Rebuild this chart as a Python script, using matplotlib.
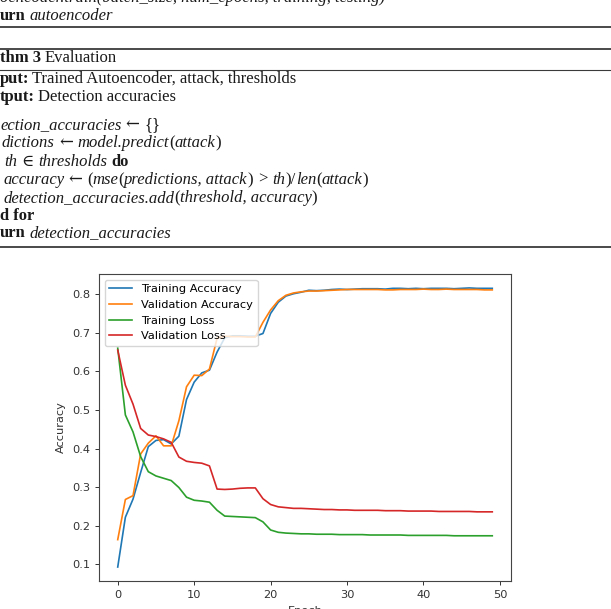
import numpy as np
import matplotlib
matplotlib.use("Agg")
import matplotlib.pyplot as plt
from matplotlib.lines import Line2D

# training history
epochs = list(range(50))
train_acc = [0.093, 0.222, 0.269, 0.338, 0.405, 0.421, 0.423, 0.412, 0.432, 0.527,
             0.572, 0.596, 0.603, 0.650, 0.687, 0.692, 0.692, 0.691, 0.691, 0.698,
             0.750, 0.779, 0.795, 0.801, 0.805, 0.810, 0.809, 0.810, 0.812, 0.813,
             0.812, 0.813, 0.814, 0.814, 0.814, 0.813, 0.815, 0.815, 0.814, 0.815,
             0.814, 0.815, 0.815, 0.815, 0.814, 0.815, 0.816, 0.815, 0.815, 0.815]
val_acc = [0.164, 0.268, 0.278, 0.386, 0.414, 0.433, 0.407, 0.407, 0.472, 0.560,
           0.590, 0.589, 0.606, 0.686, 0.691, 0.690, 0.690, 0.689, 0.689, 0.727,
           0.759, 0.783, 0.797, 0.803, 0.806, 0.808, 0.808, 0.809, 0.810, 0.811,
           0.812, 0.812, 0.812, 0.812, 0.812, 0.811, 0.811, 0.812, 0.812, 0.812,
           0.813, 0.812, 0.812, 0.813, 0.812, 0.812, 0.812, 0.812, 0.811, 0.811]
train_loss = [0.660, 0.487, 0.443, 0.379, 0.340, 0.329, 0.323, 0.317, 0.299, 0.274,
              0.266, 0.264, 0.261, 0.240, 0.225, 0.224, 0.223, 0.222, 0.221, 0.210,
              0.189, 0.183, 0.181, 0.180, 0.179, 0.179, 0.178, 0.178, 0.178, 0.177,
              0.177, 0.177, 0.177, 0.176, 0.176, 0.176, 0.176, 0.176, 0.175, 0.175,
              0.175, 0.175, 0.175, 0.175, 0.174, 0.174, 0.174, 0.174, 0.174, 0.174]
val_loss = [0.655, 0.564, 0.515, 0.452, 0.435, 0.431, 0.425, 0.416, 0.378, 0.367,
            0.364, 0.362, 0.355, 0.295, 0.294, 0.295, 0.297, 0.298, 0.298, 0.270,
            0.255, 0.249, 0.247, 0.245, 0.245, 0.244, 0.243, 0.242, 0.242, 0.241,
            0.241, 0.240, 0.240, 0.240, 0.240, 0.239, 0.239, 0.239, 0.238, 0.238,
            0.238, 0.238, 0.237, 0.237, 0.237, 0.237, 0.237, 0.236, 0.236, 0.236]
labels = ["Training Accuracy", "Validation Accuracy", "Training Loss", "Validation Loss"]

# algorithm text above the chart: (x px, y px from top, [(text, style, gap px)])
# styles: r upright, b bold, i italic, s symbol
algo_lines = [
    (0, -2, [("oencoder.train(batch_size, num_epochs, training, testing)", "i", 0)]),
    (0, 16, [("urn", "b", 0), ("autoencoder", "i", 4)]),
    (0, 58, [("thm 3", "b", 0), ("Evaluation", "r", 3)]),
    (0, 79, [("put:", "b", 0), ("Trained Autoencoder, attack, thresholds", "r", 3)]),
    (0, 97, [("tput:", "b", 0), ("Detection accuracies", "r", 3)]),
    (0, 125, [("ection_accuracies", "i", 0), ("\u2190", "s", 4), ("{}", "r", 5)]),
    (2, 143, [("dictions", "i", 0), ("\u2190", "s", 4), ("model.predict", "i", 5),
              ("(", "r", 0), ("attack", "i", 0), (")", "r", 0)]),
    (4, 162, [("th", "i", 0), ("\u2208", "s", 4), ("thresholds", "i", 5), ("do", "b", 4)]),
    (3, 180, [("accuracy", "i", 0), ("\u2190", "s", 4), ("(", "r", 5), ("mse", "i", 0),
              ("(", "r", 0), ("predictions, attack", "i", 0), (")", "r", 0), (">", "r", 5),
              ("th", "i", 5), (")/", "r", 0), ("len", "i", 0), ("(", "r", 0),
              ("attack", "i", 0), (")", "r", 0)]),
    (3, 198, [("detection_accuracies.add", "i", 0), ("(", "r", 0),
              ("threshold, accuracy", "i", 0), (")", "r", 0)]),
    (0, 216, [("d for", "b", 0)]),
    (0, 233, [("urn", "b", 0), ("detection_accuracies", "i", 4)]),
]
rules = [(27, 1.3), (49, 1.3), (69.5, 0.8), (246.5, 1.3)]

W, H = 611, 609
fig = plt.figure(figsize=(W / 100, H / 100), dpi=100)
renderer = fig.canvas.get_renderer()
serif = ["Liberation Serif", "DejaVu Serif"]

for x, y, segs in algo_lines:
    for txt, sty, gap in segs:
        x += gap
        t = fig.text(x / W, 1 - y / H, txt, fontsize=12,
                     family=["DejaVu Serif"] if sty == "s" else serif,
                     fontweight="bold" if sty == "b" else "normal",
                     fontstyle="italic" if sty == "i" else "normal",
                     ha="left", va="center", color="#1a1a1a")
        x = t.get_window_extent(renderer).x1

for y, lw in rules:
    fig.add_artist(Line2D([0, 1], [1 - y / H, 1 - y / H], transform=fig.transFigure,
                          color="#3a3a3a", lw=lw))

# chart
ax = fig.add_axes([99 / W, 28 / H, 412 / W, 307 / H])
ax.plot(epochs, train_acc, color="#1f77b4", lw=1.2, label=labels[0])
ax.plot(epochs, val_acc, color="#ff7f0e", lw=1.2, label=labels[1])
ax.plot(epochs, train_loss, color="#2ca02c", lw=1.2, label=labels[2])
ax.plot(epochs, val_loss, color="#d62728", lw=1.2, label=labels[3])
ax.set_xticks([0, 10, 20, 30, 40, 50])
ax.set_yticks([0.1, 0.2, 0.3, 0.4, 0.5, 0.6, 0.7, 0.8])
ax.tick_params(labelsize=8.2, length=3, width=0.7, colors="#333333")
for s in ax.spines.values():
    s.set_linewidth(0.8)
    s.set_color("#444444")
ax.set_xlabel("Epoch", fontsize=8.2, color="#333333")
ax.set_ylabel("Accuracy", fontsize=8.2, color="#333333")
ax.legend(loc="upper left", fontsize=8.2)

fig.savefig("out.png", dpi=100)
